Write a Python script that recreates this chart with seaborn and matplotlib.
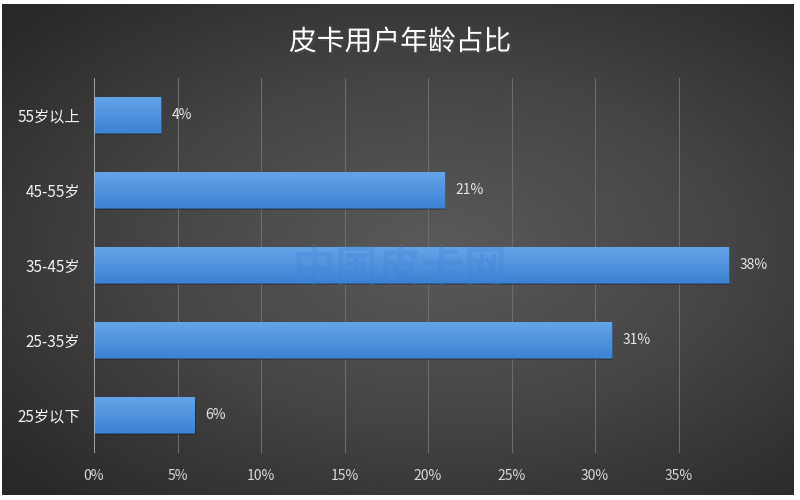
import numpy as np
import pandas as pd
import matplotlib.pyplot as plt
import matplotlib.patheffects as pe
import seaborn as sns
from matplotlib.colors import LinearSegmentedColormap
from matplotlib.patches import Rectangle

# ── data ──────────────────────────────────────
ages = ['55岁以上', '45-55岁', '35-45岁', '25-35岁', '25岁以下']
shares = [4, 21, 38, 31, 6]          # percent
xticks = [0, 5, 10, 15, 20, 25, 30, 35, 40]
xtick_labels = ['0%', '5%', '10%', '15%', '20%', '25%', '30%', '35%', '']

df = pd.DataFrame({'age': ages, 'share': shares})

sns.set_theme(style='dark')
plt.rcParams['font.family'] = ['Noto Sans CJK SC', 'DejaVu Sans']

fig = plt.figure(figsize=(8, 5), dpi=100, facecolor='white')

# radial dark-grey background (thin white frame left around it)
bg = fig.add_axes([2 / 800, 5 / 500, 792 / 800, 491 / 500], zorder=-10)
yy, xx = np.mgrid[-1:1:250j, -1:1:400j]
r = np.sqrt(((xx - 0.1) * 0.85) ** 2 + (yy * 0.9) ** 2)
bg_cmap = LinearSegmentedColormap.from_list('bg', ['#5a5a5a', '#454545', '#282828'])
bg.imshow(r, cmap=bg_cmap, extent=[0, 1, 0, 1], aspect='auto', vmin=0, vmax=1.25)
bg.set_xlim(0, 1)
bg.set_ylim(0, 1)
bg.axis('off')

ax = fig.add_axes([0.1175, 0.095, 0.835, 0.75])
ax.patch.set_alpha(0)

sns.barplot(data=df, y='age', x='share', ax=ax, width=0.47,
            color='#4a90e0', edgecolor='#2f5f96', linewidth=0.7, zorder=3)

# gradient fill + soft shadow on each bar
bar_cmap = LinearSegmentedColormap.from_list('bar', ['#3d83d3', '#64a3e7'])
grad = np.linspace(0, 1, 64).reshape(-1, 1)
for p in ax.patches:
    x0, y0 = p.get_x(), p.get_y()
    w, h = p.get_width(), p.get_height()
    ax.add_patch(Rectangle((x0 + 0.08, y0 + 0.03), w, h, color='black',
                           alpha=0.22, lw=0, zorder=2))
    im = ax.imshow(grad, cmap=bar_cmap, aspect='auto', zorder=3.5,
                   extent=[x0, x0 + w, y0 + h, y0], origin='lower')
    im.set_clip_path(p)

ax.set_xlim(0, 40)
ax.set_ylim(4.5, -0.5)

for p, v in zip(ax.patches, shares):
    ax.text(p.get_width() + 0.65, p.get_y() + p.get_height() / 2, f'{v}%',
            va='center', ha='left', color='#e6e6e6', fontsize=10, zorder=5)

# grid and axis
ax.set_xticks(xticks)
ax.set_xticklabels(xtick_labels)
ax.grid(False)
for t in xticks[1:]:
    ax.axvline(t, color='#6c6c6c', lw=0.8, zorder=1)
ax.axvline(0, color='#b5b5b5', lw=1.2, zorder=4)
for s in ax.spines.values():
    s.set_visible(False)
ax.tick_params(axis='x', length=0, pad=12, colors='#d9d9d9', labelsize=10)
ax.tick_params(axis='y', length=0, pad=10, colors='#f2f2f2', labelsize=11)
ax.set_xlabel('')
ax.set_ylabel('')

# title
fig.text(0.5, 1 - 42 / 500, '皮卡用户年龄占比', ha='center', va='center',
         fontsize=20, color='white',
         path_effects=[pe.withSimplePatchShadow(offset=(1.5, -1.5), alpha=0.6)])

# watermark
fig.text(400 / 800, 1 - 268 / 500, '中国皮卡网', ha='center', va='center',
         fontsize=31, fontweight='bold', color='#3d7fd6', alpha=0.25, zorder=6)

fig.savefig('out.png', dpi=100, facecolor='white')
